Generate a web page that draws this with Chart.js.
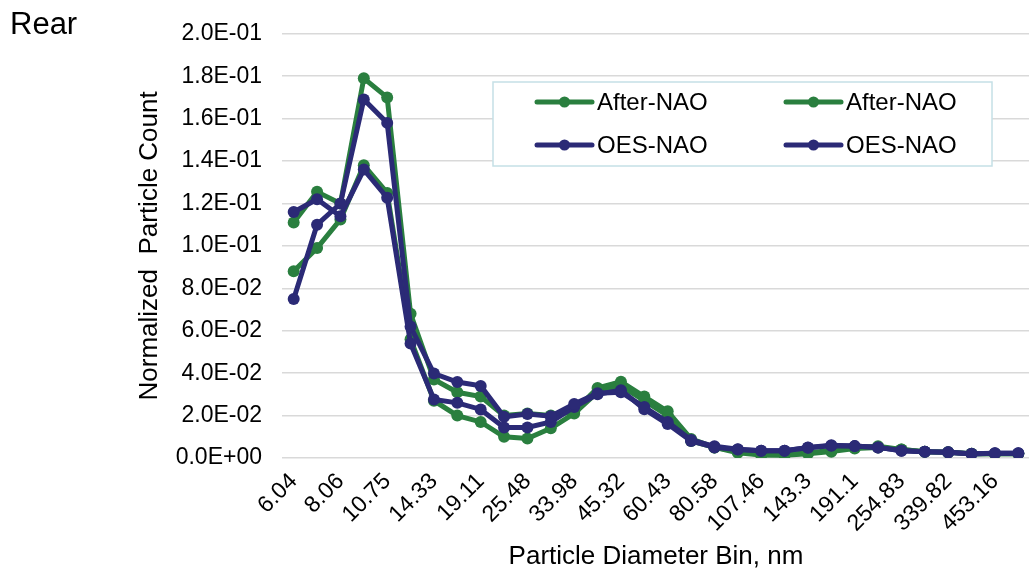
<!DOCTYPE html>
<html>
<head>
<meta charset="utf-8">
<script src="https://cdn.jsdelivr.net/npm/chart.js@4.4.1/dist/chart.umd.min.js"></script>
<style>
  html, body { margin: 0; padding: 0; background: #fff; overflow: hidden; }
  #wrap { position: relative; width: 1036px; height: 574px; }
  #rear { position: absolute; left: 10px; top: 6px; font: 31px "Liberation Sans", Arial, sans-serif; color: #000; }
</style>
</head>
<body>
<div id="wrap">
  <canvas id="chart" width="1036" height="574"></canvas>
  <div id="rear">Rear</div>
</div>
<script>
// particle diameter bins (nm)
const bins = ['6.04', '6.98', '8.06', '9.31', '10.75', '12.41', '14.33', '16.55', '19.11', '22.07',
  '25.48', '29.43', '33.98', '39.24', '45.32', '52.33', '60.43', '69.78', '80.58', '93.06',
  '107.46', '124.09', '143.3', '165.48', '191.1', '220.67', '254.83', '294.27', '339.82', '392.42',
  '453.16', '523.3'];

const afterNao1 = [0.111, 0.1255, 0.120, 0.179, 0.170, 0.068, 0.037, 0.031, 0.029, 0.020,
  0.021, 0.020, 0.022, 0.033, 0.036, 0.029, 0.022, 0.009, 0.005, 0.003,
  0.0015, 0.0015, 0.0025, 0.0035, 0.005, 0.0055, 0.004, 0.003, 0.0027, 0.002,
  0.002, 0.002];
const afterNao2 = [0.088, 0.099, 0.1125, 0.138, 0.125, 0.056, 0.027, 0.020, 0.017, 0.010,
  0.0092, 0.014, 0.021, 0.031, 0.034, 0.027, 0.020, 0.008, 0.005, 0.0025,
  0.0014, 0.0013, 0.002, 0.003, 0.0045, 0.005, 0.004, 0.003, 0.0027, 0.002,
  0.002, 0.002];
const oesNao1 = [0.075, 0.110, 0.120, 0.169, 0.158, 0.062, 0.0398, 0.0358, 0.034, 0.0194,
  0.0207, 0.0197, 0.0255, 0.0305, 0.031, 0.024, 0.017, 0.0085, 0.0055, 0.0041,
  0.0034, 0.0034, 0.005, 0.006, 0.0056, 0.005, 0.0034, 0.003, 0.0027, 0.0019,
  0.0022, 0.0022];
const oesNao2 = [0.116, 0.122, 0.114, 0.136, 0.1227, 0.054, 0.0276, 0.026, 0.0229, 0.0144,
  0.0144, 0.017, 0.024, 0.030, 0.032, 0.023, 0.016, 0.008, 0.005, 0.004,
  0.0034, 0.0034, 0.0048, 0.0058, 0.0056, 0.005, 0.0034, 0.003, 0.0027, 0.002,
  0.0022, 0.0022];

const GREEN = '#2a7f3f';
const NAVY = '#2b2a76';
const FONT = '"Liberation Sans", Arial, sans-serif';

function sci(v) {
  if (v === 0) return '0.0E+00';
  const [m, e] = v.toExponential(1).split('e');
  const n = parseInt(e, 10);
  return m + 'E' + (n < 0 ? '-' : '+') + String(Math.abs(n)).padStart(2, '0');
}

function series(label, data, color, order) {
  return {
    label, data, order,
    borderColor: color, backgroundColor: color,
    borderWidth: 5, pointRadius: 6, pointHoverRadius: 6,
    pointBorderWidth: 0, tension: 0
  };
}

// two-column boxed legend, like the spreadsheet one
const boxLegend = {
  id: 'boxLegend',
  afterDraw(chart) {
    const ctx = chart.ctx;
    const ds = chart.data.datasets;
    const x0 = 493, y0 = 82, w = 499, h = 84;
    ctx.save();
    ctx.fillStyle = '#fff';
    ctx.fillRect(x0, y0, w, h);
    ctx.strokeStyle = '#c5e0e6';
    ctx.lineWidth = 1.5;
    ctx.strokeRect(x0, y0, w, h);
    ctx.font = '24px ' + FONT;
    ctx.textBaseline = 'middle';
    ds.forEach((d, i) => {
      const col = i % 2, row = Math.floor(i / 2);
      const lx = col ? 786 : 537;
      const ly = row ? 145 : 102;
      ctx.strokeStyle = d.borderColor;
      ctx.lineWidth = 5;
      ctx.lineCap = 'round';
      ctx.beginPath();
      ctx.moveTo(lx, ly);
      ctx.lineTo(lx + 55, ly);
      ctx.stroke();
      ctx.fillStyle = d.borderColor;
      ctx.beginPath();
      ctx.arc(lx + 27.5, ly, 5.5, 0, Math.PI * 2);
      ctx.fill();
      ctx.fillStyle = '#000';
      ctx.fillText(d.label, lx + 60, ly + 1);
    });
    ctx.restore();
  }
};

new Chart(document.getElementById('chart'), {
  type: 'line',
  data: {
    labels: bins,
    datasets: [
      series('After-NAO', afterNao1, GREEN, 1),
      series('After-NAO', afterNao2, GREEN, 1),
      series('OES-NAO', oesNao1, NAVY, 0),
      series('OES-NAO', oesNao2, NAVY, 0)
    ]
  },
  options: {
    responsive: false,
    animation: false,
    layout: { padding: { left: 134, top: 32, right: 0, bottom: 2 } },
    plugins: { legend: { display: false }, tooltip: { enabled: false } },
    scales: {
      x: {
        offset: true,
        grid: { display: false, drawTicks: false },
        border: { display: false },
        ticks: {
          autoSkip: false, maxRotation: 45, minRotation: 45, padding: 10,
          color: '#000', font: { family: FONT, size: 23 },
          callback: (v, i) => (i % 2 === 0 ? bins[i] : '')
        },
        title: {
          display: true, text: 'Particle Diameter Bin, nm', color: '#000',
          font: { family: FONT, size: 26 }, padding: { top: 2, bottom: 0 }
        },
        afterFit: s => { s.height = 114; s.paddingRight = 0; }
      },
      y: {
        min: 0, max: 0.2,
        grid: { color: '#d9d9d9', lineWidth: 1.5, drawTicks: false },
        border: { display: false },
        ticks: {
          stepSize: 0.02, padding: 20, color: '#000',
          font: { family: FONT, size: 23 },
          callback: v => sci(Math.round(v * 1000) / 1000)
        },
        title: {
          display: true, text: 'Normalized  Particle Count', color: '#000',
          font: { family: FONT, size: 26 }, padding: 0
        },
        afterFit: s => { s.width = 148; }
      }
    }
  },
  plugins: [boxLegend]
});
</script>
</body>
</html>
